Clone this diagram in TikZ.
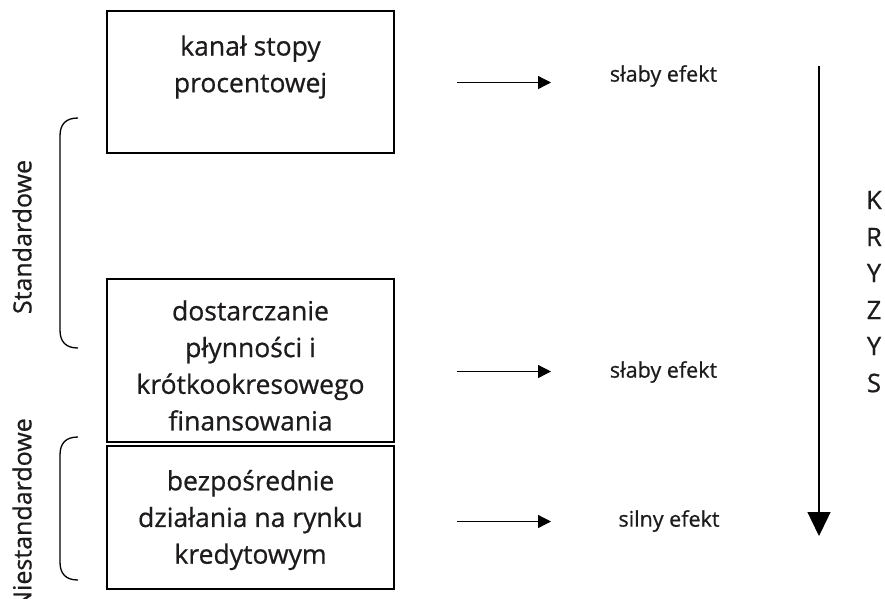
\documentclass[tikz,border=0pt]{standalone}
\usepackage{fontspec}
\setmainfont{Open Sans}
\newfontfamily\inkfont{Open Sans}[FakeBold=0.7]
\usetikzlibrary{arrows.meta}
\definecolor{ink}{HTML}{1E1B1C}
\begin{document}
\begin{tikzpicture}[x=1pt,y=-1pt,
  boxst/.style={draw=black,line width=1.7pt,rectangle,inner sep=0pt},
  boxtext/.style={text=ink,align=center,font=\inkfont\fontsize{26.5}{36.7}\selectfont,inner sep=0pt},
  lbl/.style={text=ink,font=\inkfont\fontsize{21.5}{26}\selectfont,inner sep=0pt},
  side/.style={text=ink,font=\inkfont\fontsize{25}{30}\selectfont,inner sep=0pt,rotate=90},
  letter/.style={text=ink,font=\inkfont\fontsize{25.5}{30}\selectfont,inner sep=0pt},
  harrow/.style={line width=1.3pt,-{Triangle[length=13pt,width=13pt]}},
  varrow/.style={line width=1.3pt,-{Triangle[length=24pt,width=23pt]}},
  brace/.style={line width=1.3pt,draw=black}]
\useasboundingbox (0,0) rectangle (885,598);
\fill[white] (0,0) rectangle (885,598);
% boxes
\node[boxst,minimum width=287pt,minimum height=142pt] (box1) at (250.5,82) {};
\node[boxst,minimum width=287pt,minimum height=163pt] (box2) at (250.5,360.5) {};
\node[boxst,minimum width=287pt,minimum height=143pt] (box3) at (250.5,517.5) {};
\node[boxtext] (t1) at (250.5,67) {kanał stopy\\procentowej};
\node[boxtext] (t2) at (250.5,365.5) {dostarczanie\\płynności i\\krótkookresowego\\finansowania};
\node[boxtext] (t3) at (250.5,520) {bezpośrednie\\działania na rynku\\kredytowym};
% effect labels
\node[lbl] (e1) at (663.5,76) {słaby efekt};
\node[lbl] (e2) at (663.5,372) {słaby efekt};
\node[lbl] (e3) at (669,521) {silny efekt};
% horizontal arrows
\coordinate (h1s) at (457,82.5);
\coordinate (h1e) at (551,82.5);
\coordinate (h2s) at (457,371.5);
\coordinate (h2e) at (551,371.5);
\coordinate (h3s) at (457,521.5);
\coordinate (h3e) at (551,521.5);
\draw[harrow] (h1s) -- (h1e);
\draw[harrow] (h2s) -- (h2e);
\draw[harrow] (h3s) -- (h3e);
% vertical crisis arrow
\coordinate (vs) at (819,66);
\coordinate (ve) at (819,536);
\draw[varrow] (vs) -- (ve);
\node[letter] (k1) at (874,200) {K};
\node[letter] (k2) at (874,237) {R};
\node[letter] (k3) at (874,273) {Y};
\node[letter] (k4) at (874,310) {Z};
\node[letter] (k5) at (874,346) {Y};
\node[letter] (k6) at (874,383) {S};
% brackets
\draw[brace] (78,118) .. controls (66,118) and (60,124) .. (60,136) -- (60,330) .. controls (60,342) and (66,348) .. (78,348);
\draw[brace] (78,437) .. controls (66,437) and (60,443) .. (60,455) -- (60,562) .. controls (60,574) and (66,580) .. (78,580);
\node[side] (s1) at (22,237) {Standardowe};
\node[side] (s2) at (22,514) {Niestandardowe};
\end{tikzpicture}
\end{document}
